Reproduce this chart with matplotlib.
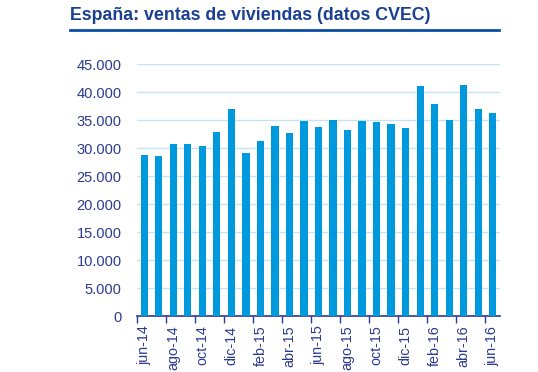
import numpy as np
import matplotlib as mpl
mpl.use('agg')
import matplotlib.pyplot as plt
from matplotlib.ticker import FuncFormatter

plt.rcParams['font.family'] = ['Liberation Sans', 'DejaVu Sans']

meses = ['jun-14', 'jul-14', 'ago-14', 'sep-14', 'oct-14', 'nov-14', 'dic-14',
         'ene-15', 'feb-15', 'mar-15', 'abr-15', 'may-15', 'jun-15', 'jul-15',
         'ago-15', 'sep-15', 'oct-15', 'nov-15', 'dic-15', 'ene-16', 'feb-16',
         'mar-16', 'abr-16', 'may-16', 'jun-16']
ventas = [28750, 28580, 30700, 30700, 30380, 32860, 36960, 29120, 31300,
          33900, 32700, 34850, 33780, 35000, 33250, 34820, 34620, 34300,
          33580, 41080, 37880, 35000, 41250, 36980, 36260]
yticks = np.arange(0, 45001, 5000)

navy = '#2B3A8E'
bar_col = '#0099DD'
grid_col = '#C3E4F3'

fig = plt.figure(figsize=(5.38, 3.72), dpi=100)
ax = fig.add_axes([137/538, 1 - 316/372, 363/538, 252/372])

x = np.arange(len(meses))
ax.bar(x, ventas, width=0.5, color=bar_col, zorder=3)

ax.set_xlim(-0.5, len(meses) - 0.5)
ax.set_ylim(0, 45000)
ax.set_yticks(yticks)
ax.yaxis.set_major_formatter(FuncFormatter(lambda v, p: '{:,.0f}'.format(v).replace(',', '.')))
ax.grid(axis='y', color=grid_col, linewidth=1, zorder=0)

ax.set_xticks(x[::2])
ax.set_xticklabels(meses[::2], rotation=90)
ax.set_xticks(np.arange(-0.5, len(meses) - 1, 2), minor=True)
ax.tick_params(axis='x', which='major', length=0, pad=7, labelsize=10.3, labelcolor=navy)
ax.tick_params(axis='x', which='minor', length=5, width=1, color=navy, direction='out')
ax.tick_params(axis='y', length=0, pad=11, labelsize=10.5, labelcolor=navy)

for s in ['top', 'right', 'left']:
    ax.spines[s].set_visible(False)
ax.spines['bottom'].set_color(navy)
ax.spines['bottom'].set_linewidth(1.2)

fig.text(70/538, 1 - 20/372, 'España: ventas de viviendas (datos CVEC)',
         fontsize=12.8, fontweight='bold', color='#1A3F93', ha='left', va='baseline')
fig.add_artist(plt.Line2D([70/538, 499/538], [1 - 30/372, 1 - 30/372],
                          color='#0B4EA2', linewidth=2))

fig.savefig('out.png', dpi=100)
